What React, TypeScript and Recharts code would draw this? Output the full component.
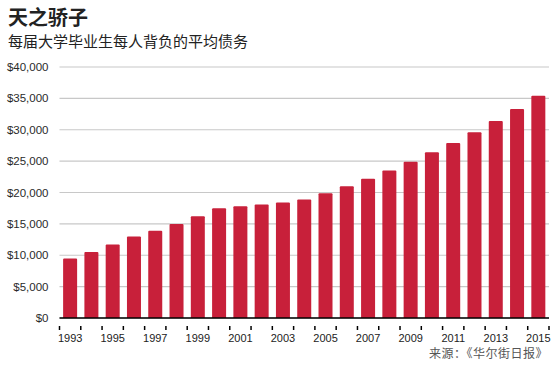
import React from "react";
import { BarChart, Bar, XAxis, YAxis, CartesianGrid } from "recharts";

const years = ["1993","1994","1995","1996","1997","1998","1999","2000","2001","2002","2003","2004","2005","2006","2007","2008","2009","2010","2011","2012","2013","2014","2015"];
const debt = [9500,10500,11700,13000,13900,15000,16200,17500,17800,18100,18400,18900,19900,21000,22200,23500,24900,26400,27900,29600,31400,33300,35400];
const yTicks = [0,5000,10000,15000,20000,25000,30000,35000,40000];

const data = years.map((y, i) => ({ year: y, debt: debt[i] }));

const latin = "'Liberation Sans', Arial, 'Noto Sans CJK SC', sans-serif";
const cjk = "'Noto Sans CJK SC', 'Liberation Sans', sans-serif";

const fmt = (v: number) => "$" + v.toLocaleString("en-US");

const XTick = (props: any) => {
  const { x, y, payload, index, width } = props;
  const band = width / years.length;
  const left = x - band / 2;
  const right = x + band / 2;
  return (
    <g>
      <line x1={left} x2={left} y1={y} y2={y + 4} stroke="#000" strokeWidth={1.5} />
      {index === years.length - 1 && (
        <line x1={right} x2={right} y1={y} y2={y + 4} stroke="#000" strokeWidth={1.5} />
      )}
      {index % 2 === 0 && (
        <text x={x} y={y + 16} textAnchor="middle" fontSize={11} fill="#222" fontFamily={latin}>
          {payload.value}
        </text>
      )}
    </g>
  );
};

const YTick = (props: any) => {
  const { x, y, payload } = props;
  return (
    <text x={x} y={y + 4} textAnchor="end" fontSize={11.5} fill="#2a2a2a" fontFamily={latin}>
      {fmt(payload.value)}
    </text>
  );
};

export default function App() {
  return (
    <div style={{ position: "absolute", left: 0, top: 0, width: 553, height: 369, background: "#fff", overflow: "hidden" }}>
      <div style={{ position: "absolute", left: 8, top: 6, fontFamily: cjk, fontWeight: 700, fontSize: 20, lineHeight: "22px", color: "#222" }}>
        天之骄子
      </div>
      <div style={{ position: "absolute", left: 8, top: 32, fontFamily: cjk, fontSize: 15, lineHeight: "17px", color: "#222" }}>
        每届大学毕业生每人背负的平均债务
      </div>
      <div style={{ position: "absolute", right: 5, top: 345, fontFamily: cjk, fontSize: 12, lineHeight: "16px", letterSpacing: "0.5px", color: "#555" }}>
        来源：《华尔街日报》
      </div>
      <div style={{ position: "absolute", left: 0, top: 0 }}>
        <BarChart width={553} height={369} data={data} margin={{ top: 67, right: 4, bottom: 21, left: 0 }} barCategoryGap="17%">
          <CartesianGrid horizontal={true} vertical={false} stroke="#c8c8c8" strokeWidth={1.2} />
          <XAxis
            dataKey="year"
            interval={0}
            height={30}
            tickLine={false}
            axisLine={{ stroke: "#000", strokeWidth: 1.5 }}
            tick={<XTick />}
          />
          <YAxis
            width={59.5}
            domain={[0, 40000]}
            ticks={yTicks}
            tickLine={false}
            axisLine={false}
            tickSize={0}
            tickMargin={11}
            tick={<YTick />}
          />
          <Bar dataKey="debt" fill="#C8203A" isAnimationActive={false} radius={[1, 1, 0, 0]} />
        </BarChart>
      </div>
    </div>
  );
}
